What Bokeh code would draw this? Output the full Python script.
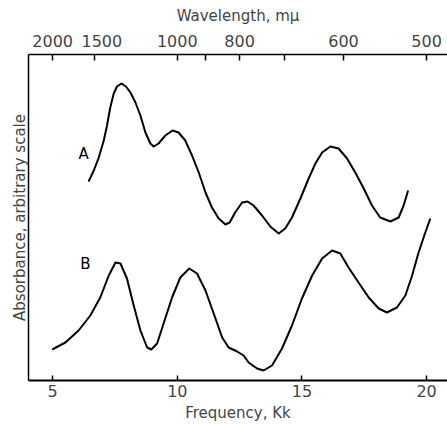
from bokeh.plotting import figure
from bokeh.models import LinearAxis, FixedTicker, ColumnDataSource
from bokeh.core.properties import value
from bokeh.embed import file_html
from bokeh.resources import INLINE

# Curve A: frequency (Kk) and absorbance (arbitrary)
a_freq = [6.44, 6.65, 6.85, 7.05, 7.18, 7.31, 7.45, 7.58, 7.76, 7.94, 8.12, 8.32,
          8.52, 8.72, 8.92, 9.05, 9.25, 9.52, 9.81, 10.05, 10.32, 10.59, 10.86,
          11.13, 11.39, 11.66, 11.93, 12.10, 12.32, 12.60, 12.82, 13.06, 13.40,
          13.73, 14.07, 14.33, 14.60, 14.94, 15.27, 15.54, 15.81, 16.14, 16.47,
          16.81, 17.14, 17.48, 17.81, 18.14, 18.55, 18.88, 19.08, 19.26]
a_abs = [19.9, 21.0, 22.3, 24.0, 25.5, 27.3, 28.7, 29.4, 29.7, 29.4, 28.8, 27.8,
         26.5, 24.8, 23.7, 23.4, 23.7, 24.5, 25.0, 24.8, 24.0, 22.5, 20.8,
         18.8, 17.3, 16.2, 15.6, 15.8, 16.8, 17.8, 17.9, 17.5, 16.5,
         15.4, 14.7, 15.2, 16.3, 18.2, 20.2, 21.7, 22.8, 23.4, 23.2,
         22.2, 20.8, 19.2, 17.5, 16.3, 15.9, 16.3, 17.5, 19.0]

# Curve B
b_freq = [4.98, 5.51, 6.04, 6.51, 6.91, 7.25, 7.52, 7.72, 7.98, 8.25, 8.52, 8.79,
          8.96, 9.19, 9.45, 9.79, 10.12, 10.48, 10.79, 11.13, 11.46, 11.80, 12.06,
          12.40, 12.66, 12.86, 13.20, 13.46, 13.80, 14.20, 14.60, 15.00, 15.41,
          15.81, 16.21, 16.54, 16.87, 17.27, 17.68, 18.08, 18.41, 18.81, 19.15,
          19.42, 19.68, 19.95, 20.15]
b_abs = [3.1, 3.8, 5.0, 6.5, 8.3, 10.5, 11.8, 11.7, 10.2, 7.5, 5.0, 3.3,
         3.1, 3.7, 5.7, 8.3, 10.3, 11.2, 10.7, 9.0, 6.7, 4.3, 3.3,
         2.9, 2.5, 1.8, 1.2, 1.0, 1.5, 3.2, 5.5, 8.2, 10.5,
         12.2, 13.0, 12.7, 11.3, 9.8, 8.3, 7.2, 6.8, 7.3, 8.5,
         10.5, 12.8, 14.8, 16.2]

curve_names = ["A", "B"]
name_freq = [6.24, 6.31]
name_abs = [22.7, 11.7]

freq_ticks = [5, 10, 15, 20]
wavelengths = [2000, 1500, 1000, 900, 800, 700, 600, 500]
wavelength_labels = ["2000", "\u00a0\u00a0\u00a01500", "1000", "", "800", "", "600", "500"]

FONT = "DejaVu Sans"

p = figure(width=447, height=424, x_range=(4.03, 20.84), y_range=(0, 32.6),
           output_backend="svg", toolbar_location=None,
           min_border_left=28, min_border_right=0, min_border_top=54,
           min_border_bottom=44)
p.outline_line_color = None
p.xgrid.visible = False
p.ygrid.visible = False
p.background_fill_color = "white"

p.line(a_freq, a_abs, line_color="black", line_width=2, line_join="round")
p.line(b_freq, b_abs, line_color="black", line_width=2, line_join="round")

src = ColumnDataSource(dict(x=name_freq, y=name_abs, t=curve_names))
p.text(x="x", y="y", text="t", source=src, text_align="center",
       text_baseline="middle", text_font=value(FONT), text_font_size="15px",
       text_color="black")

# bottom axis
xa = p.xaxis[0]
xa.ticker = FixedTicker(ticks=freq_ticks)
xa.axis_label = "Frequency, Kk"
xa.axis_line_width = 2
xa.major_tick_in = 5
xa.major_tick_out = 0
xa.minor_tick_in = 0
xa.minor_tick_out = 0
xa.major_tick_line_width = 1.5
xa.major_label_text_font = FONT
xa.major_label_text_font_size = "16px"
xa.major_label_standoff = 4
xa.axis_label_text_font = FONT
xa.axis_label_text_font_size = "15px"
xa.axis_label_text_font_style = "normal"
xa.axis_label_standoff = 4

# left axis
ya = p.yaxis[0]
ya.ticker = FixedTicker(ticks=[])
ya.axis_label = "Absorbance, arbitrary scale"
ya.axis_line_width = 1.5
ya.major_tick_in = 0
ya.major_tick_out = 0
ya.minor_tick_in = 0
ya.minor_tick_out = 0
ya.axis_label_text_font = FONT
ya.axis_label_text_font_size = "15px"
ya.axis_label_text_font_style = "normal"
ya.axis_label_standoff = 0

# top axis: wavelength in m\u03bc
top_pos = [10000.0 / w for w in wavelengths]
top = LinearAxis(ticker=FixedTicker(ticks=top_pos),
                 major_label_overrides={t: l for t, l in zip(top_pos, wavelength_labels)})
top.axis_label = "Wavelength, m\u03bc"
top.axis_line_width = 1.5
top.major_tick_in = 6
top.major_tick_out = 0
top.minor_tick_in = 0
top.minor_tick_out = 0
top.major_tick_line_width = 1.5
top.major_label_text_font = FONT
top.major_label_text_font_size = "16px"
top.major_label_standoff = 4
top.axis_label_text_font = FONT
top.axis_label_text_font_size = "15px"
top.axis_label_text_font_style = "normal"
top.axis_label_standoff = 4
p.add_layout(top, "above")

open("out.html", "w").write(file_html(p, INLINE))
